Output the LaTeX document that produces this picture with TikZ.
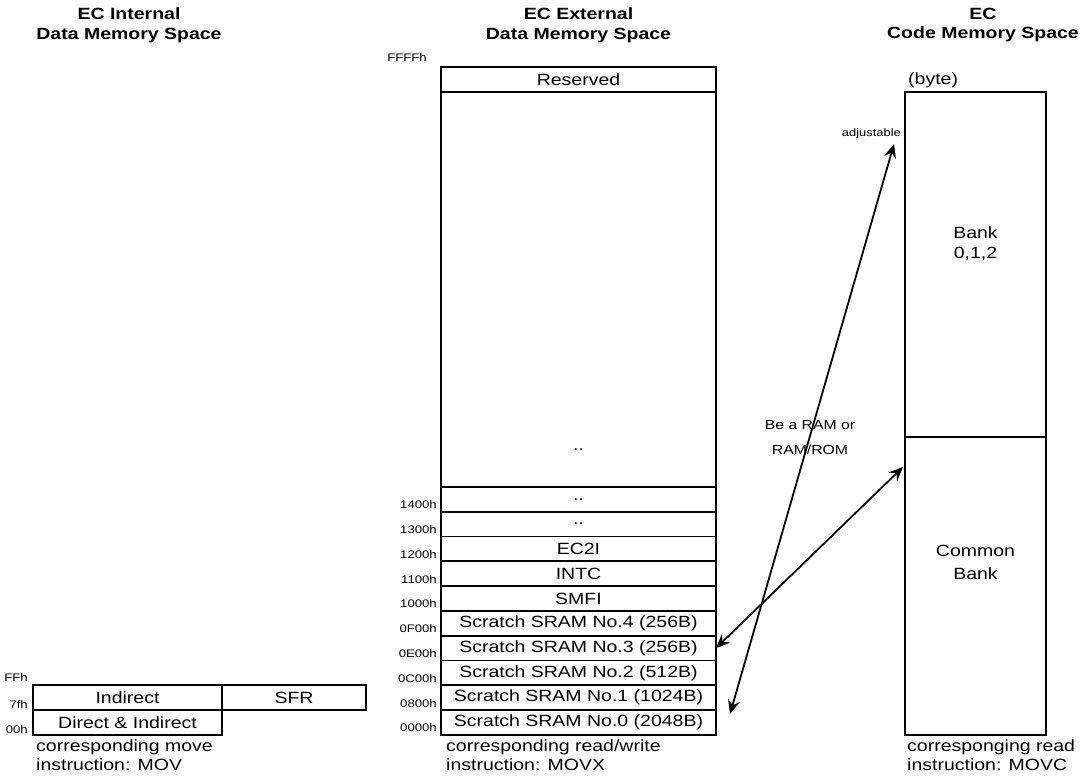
\documentclass[tikz,border=0pt]{standalone}
\usepackage{fontspec}
\setmainfont[FakeStretch=1.2]{Liberation Sans}
\usepackage{tikz}
\usetikzlibrary{positioning,arrows.meta}

\begin{document}
\begin{tikzpicture}[
  x=1bp, y=-1bp,
  node distance=0pt,
  mrow/.style={rectangle, draw, line width=1.8bp, minimum width=275bp, minimum height=24.8bp,
               inner sep=0pt, outer sep=0pt, font=\fontsize{16.3}{19}\selectfont},
  lrow/.style={mrow, minimum height=25bp},
  crow/.style={mrow, minimum width=141bp},
  addr/.style={anchor=east, inner sep=1bp, font=\fontsize{11}{12}\selectfont},
  note/.style={anchor=north west, inner sep=1bp, align=left, font=\fontsize{16.3}{19}\selectfont},
  txt/.style={align=center, inner sep=1bp, font=\fontsize{16.3}{20}\selectfont},
  hdr/.style={align=center, inner sep=1bp, font=\fontsize{16.3}{20}\selectfont\bfseries},
  arr/.style={{Stealth[length=14bp,width=12bp,inset=5bp]}-{Stealth[length=14bp,width=12bp,inset=5bp]},
              line width=1.8bp},
]
  \useasboundingbox (0,0) rectangle (1082,776);

  % Headers
  \node[hdr] (hint) at (129,25) {EC Internal\\Data Memory Space};
  \node[hdr] (hext) at (578.5,25) {EC External\\Data Memory Space};
  \node[hdr] (hcode) at (983,25) {EC\\Code Memory Space};

  % Internal data memory
  \node[lrow, minimum width=189bp] (indirect) at (127.5,697.5) {Indirect};
  \node[lrow, minimum width=144bp, right=of indirect] (sfr) {SFR};
  \node[lrow, minimum width=189bp, below=of indirect] (direct) {Direct \& Indirect};
  \node[addr] (aFF) at ([xshift=-4bp,yshift=7bp]indirect.north west) {FFh};
  \node[addr] (a7f) at ([xshift=-4bp,yshift=5bp]indirect.south west) {7fh};
  \node[addr] (a00) at ([xshift=-4bp,yshift=5bp]direct.south west) {00h};
  \node[note] (movnote) at ([xshift=2bp,yshift=-4bp]direct.south west) {corresponding move\\instruction: MOV};

  % External data memory
  \node[mrow] (res) at (578.5,79.5) {Reserved};
  \node[mrow, minimum height=395bp, below=of res] (upper) {};
  \node[txt] (dots) at (578.5,450) {..};
  \node[mrow, below=of upper] (r1400) {..};
  \node[mrow, below=of r1400] (r1300) {..};
  \node[mrow, below=of r1300] (ec2i) {EC2I};
  \node[mrow, below=of ec2i] (intc) {INTC};
  \node[mrow, below=of intc] (smfi) {SMFI};
  \node[mrow, below=of smfi] (sram4) {Scratch SRAM No.4 (256B)};
  \node[mrow, below=of sram4] (sram3) {Scratch SRAM No.3 (256B)};
  \node[mrow, below=of sram3] (sram2) {Scratch SRAM No.2 (512B)};
  \node[mrow, below=of sram2] (sram1) {Scratch SRAM No.1 (1024B)};
  \node[mrow, below=of sram1] (sram0) {Scratch SRAM No.0 (2048B)};

  \node[addr] (aFFFF) at ([xshift=-13bp,yshift=10bp]res.north west) {FFFFh};
  \node[addr] (a1400) at ([xshift=-3bp,yshift=7bp]r1400.south west) {1400h};
  \node[addr] (a1300) at ([xshift=-3bp,yshift=7bp]r1300.south west) {1300h};
  \node[addr] (a1200) at ([xshift=-3bp,yshift=7bp]ec2i.south west) {1200h};
  \node[addr] (a1100) at ([xshift=-3bp,yshift=7bp]intc.south west) {1100h};
  \node[addr] (a1000) at ([xshift=-3bp,yshift=7bp]smfi.south west) {1000h};
  \node[addr] (a0F00) at ([xshift=-3bp,yshift=7bp]sram4.south west) {0F00h};
  \node[addr] (a0E00) at ([xshift=-3bp,yshift=7bp]sram3.south west) {0E00h};
  \node[addr] (a0C00) at ([xshift=-3bp,yshift=7bp]sram2.south west) {0C00h};
  \node[addr] (a0800) at ([xshift=-3bp,yshift=7bp]sram1.south west) {0800h};
  \node[addr] (a0000) at ([xshift=-3bp,yshift=7bp]sram0.south west) {0000h};
  \node[note] (movxnote) at ([xshift=4bp,yshift=-4bp]sram0.south west) {corresponding read/write\\instruction: MOVX};

  % Code memory
  \node[crow, minimum height=345bp] (bank) at (975.5,264.5) {};
  \node[crow, minimum height=298bp, below=of bank] (common) {};
  \node[txt] (banktxt) at (975.5,244) {Bank\\0,1,2};
  \node[txt, font=\fontsize{16.3}{23}\selectfont] (cmntxt) at (975.5,562) {Common\\Bank};
  \node[txt, anchor=west] (byte) at ([xshift=2bp,yshift=12bp]bank.north west) {(byte)};
  \node[note] (movcnote) at ([xshift=1bp,yshift=-4bp]common.south west) {corresponging read\\instruction: MOVC};

  % Mapping arrows
  \coordinate (adjtip) at (894,144);
  \coordinate (lowtip) at (730,714);
  \coordinate (cmnin) at (903,467);
  \node[addr, font=\fontsize{10.8}{12}\selectfont] (adj) at (902,134) {adjustable};
  \node[txt, font=\fontsize{13.2}{25}\selectfont] (ramrom) at (810,437.5) {Be a RAM or\\RAM/ROM};
  \draw[arr] (lowtip) -- (adjtip);
  \draw[arr] (sram3.east) -- (cmnin);
\end{tikzpicture}
\end{document}
